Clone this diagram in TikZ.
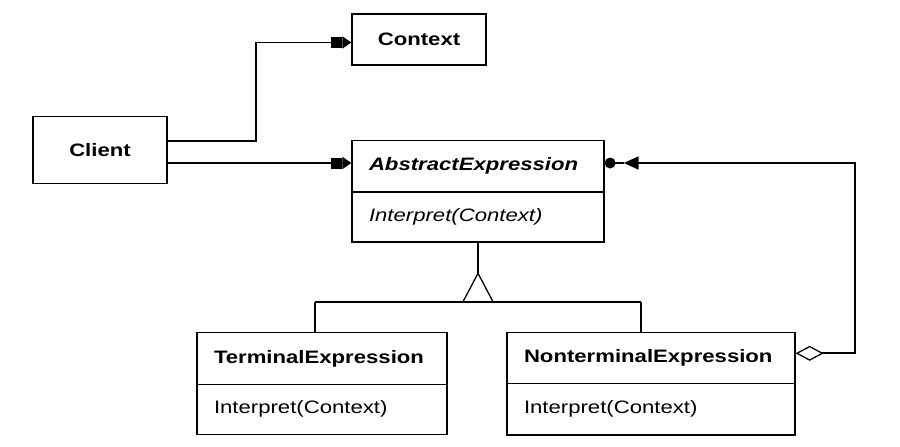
\documentclass[tikz,border=0pt]{standalone}
\usepackage{fontspec}
\setmainfont{Liberation Sans}
\usepackage{graphicx}
\usetikzlibrary{arrows.meta,calc}
\newcommand{\stretchtxt}[1]{\scalebox{1.23}[1]{#1}}
\tikzset{
  cls/.style={draw, line width=1.3pt, rectangle, inner ysep=0pt, font=\fontsize{18}{20}\selectfont},
  lefttxt/.style={align=left, inner xsep=17pt},
  conn/.style={line width=1.7pt},
  navarrow/.style={-{Square[length=11pt,width=11pt,sep=0pt]Triangle[length=9pt,width=12pt,sep=0pt]}},
  agg/.style={{Diamond[open,length=28pt,width=15pt,line width=1.3pt]}-{Triangle[length=15pt,width=13pt]}}
}
\begin{document}
\begin{tikzpicture}[x=1pt,y=-1pt]
\useasboundingbox[fill=white] (0,0) rectangle (900,447);

% classes
\node[cls, minimum width=134pt, minimum height=66.6pt] (Client) at (100,150) {\stretchtxt{\textbf{Client}}};
\node[cls, minimum width=134pt, minimum height=51pt] (Context) at (419,39.5) {\stretchtxt{\textbf{Context}}};

\node[cls, lefttxt, text width=218pt, minimum height=51.7pt] (AE) at (478,166) {\stretchtxt{\textbf{\textit{AbstractExpression}}}};
\node[cls, lefttxt, text width=218pt, minimum height=50.3pt] (AEop) at (478,216.9) {\stretchtxt{\textit{Interpret(Context)}}};

\node[cls, lefttxt, text width=216pt, minimum height=51.6pt] (TE) at (322,358.5) {\stretchtxt{\textbf{TerminalExpression}}};
\node[cls, lefttxt, text width=216pt, minimum height=50pt] (TEop) at (322,409.3) {\stretchtxt{Interpret(Context)}};

\node[cls, lefttxt, text width=254pt, minimum height=51pt] (NE) at (651,357.8) {\stretchtxt{\textbf{NonterminalExpression}}};
\node[cls, lefttxt, text width=254pt, minimum height=51.7pt] (NEop) at (651,409.2) {\stretchtxt{Interpret(Context)}};

% client associations
\coordinate (j1) at (256,141);
\draw[conn, navarrow] (Client.east |- j1) -- (j1) |- ([yshift=-3pt]Context.west);
\coordinate (aein) at ([yshift=3pt]AE.west);
\draw[conn, navarrow] (Client.east |- aein) -- (aein);

% inheritance
\coordinate (apex) at (478,273.3);
\coordinate (bl) at (463,301.7);
\coordinate (br) at (493,301.7);
\draw[conn] (AEop.south) -- (apex);
\draw[line width=1.3pt, line join=miter] (apex) -- (bl) -- (br) -- cycle;
\coordinate (tl) at (315,301.7);
\coordinate (tr) at (641,301.7);
\draw[conn] (tl) -- (tr);
\draw[conn] (tl) -- (tl |- TE.north);
\draw[conn] (tr) -- (tr |- NE.north);

% aggregation
\coordinate (neout) at ([yshift=4.5pt]NE.east);
\coordinate (corner) at (855,353.3);
\coordinate (aeend) at ([xshift=19pt,yshift=3pt]AE.east);
\draw[conn, agg] (neout) -- (corner) |- (aeend);
\draw[conn] ([yshift=3pt]AE.east) -- (aeend);
\fill ([xshift=5.5pt,yshift=3pt]AE.east) circle (5.5pt);
\end{tikzpicture}
\end{document}
